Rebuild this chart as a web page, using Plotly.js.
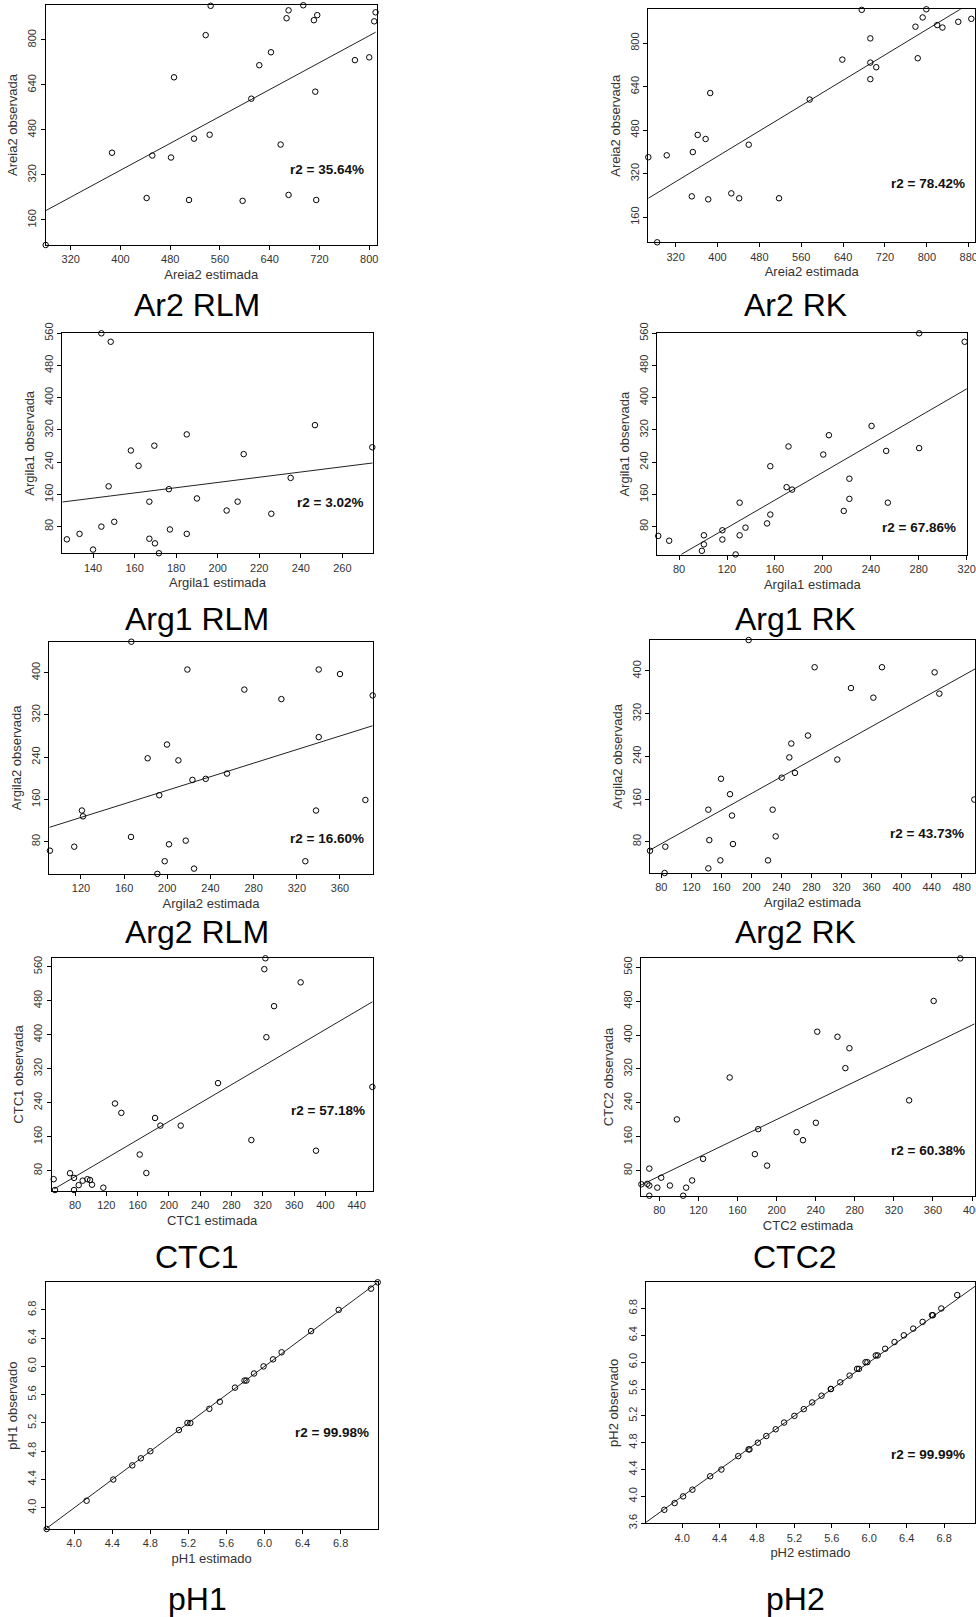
<!DOCTYPE html>
<html>
<head>
<meta charset="utf-8">
<script src="https://cdn.plot.ly/plotly-3.0.1.min.js"></script>
<style>html,body{margin:0;padding:0;background:#fff}#chart{width:976px;height:1617px}</style>
</head>
<body>
<div id="chart"></div>
<script>
// ---------- DATA ----------
// Ar2 RLM
const ar2RlmEst = [279.8,386.4,442.1,451.2,481.3,486.1,510.2,518.3,537,543.4,545,596.4,610.4,623.2,642,657.5,667.1,670.3,670.3,693.9,711,713.2,714.8,716.4,777,800,808,810.2];
const ar2RlmObs = [71,399,238,389,382,667,231,449,817,463,921,228,591,710,756,428,877,905,249,923,870,616,231,888,728,738,866,898];
const ar2RlmFitX = [279.8,810.2];
const ar2RlmFitY = [193,827];
// Ar2 RK
const ar2RkEst = [267.8,284.8,303,350.9,352.8,362.2,377.3,382.3,386.1,426.4,441.5,459.7,517.6,576.2,638.5,675.6,692,692,692,703.3,778.2,782.6,792,799,819.8,829.8,860,885];
const ar2RkObs = [381,68,388,237,400,463,448,226,617,248,230,427,230,593,740,923,818,729,668,712,861,745,895,925,867,858,879,890];
const ar2RkFitX = [267.8,892];
const ar2RkFitY = [229.9,958];
// Arg1 RLM
const arg1RlmEst = [125,127.4,133.5,140,144,144,148.5,147.5,150.2,158.2,161.9,167.1,167.1,169.5,169.8,171.7,176.5,177,185.1,185.1,190,204.3,209.6,212.5,225.8,235.1,246.8,274.4];
const arg1RlmObs = [59,48.5,62,23,560,80,539,180,92,269,231,142,50,281,38.5,14,173,73,309,62,150,120,142,260,112,201,332,277];
const arg1RlmFitX = [125.2,274.6];
const arg1RlmFitY = [141.1,238.1];
// Arg1 RK
const arg1RkEst = [62.6,71.7,99,100.7,100.7,116.1,116.1,127.2,130.5,130.5,135.4,153.4,156.1,156.1,169.7,171.3,174.3,200.3,205,217.4,222.1,222.1,240.6,252.8,254.2,280.3,280.3,318.3];
const arg1RkObs = [57,45,20,58.5,36,71,48,11,139.5,58.5,77.5,88,110,230,178,279,172,259,307,119,199,149,330,268,139.5,560,275,539];
const arg1RkFitX = [81.9,320];
const arg1RkFitY = [11.3,422];
// Arg2 RLM
const arg2RlmEst = [91.3,113.8,120.9,121.9,166.4,166.7,181.8,190.8,192.6,197.6,199.7,201.6,210.3,217.1,218.6,223.3,224.8,235.6,255.3,271.4,305.7,327.9,337.8,340.3,340.3,360,383.5,390.3];
const arg2RlmObs = [63,70.5,139,128,89,458.7,238,19,168,43,264,75,234,82,406,197,29,199,209,368,350,43,139,406,278,397.5,159,357];
const arg2RlmFitX = [90.7,390.3];
const arg2RlmFitY = [107.1,299.6];
// Arg2 RK
const arg2RkEst = [64.9,85.3,84.4,142.6,142.6,143.9,158.6,159.5,171.5,174.1,175.4,196.3,222.1,228.3,232.3,240.3,250.5,253.1,258,275.3,284.2,314.4,332.6,362.4,373.9,444,450.3,496.9];
const arg2RkObs = [63,70.6,21.3,140,30,83,45,198,169,129,75.6,458,45,140,90,200,238,264,209,279,407,234,368,350,407,397.5,357.5,159];
const arg2RkFitX = [64.9,497.8];
const arg2RkFitY = [64.4,403.8];
// CTC1
const ctc1Est = [52.7,54.4,73.6,78.7,78.7,84.7,89.8,95.8,99.2,101.7,116.2,131.1,139.2,162.7,171.2,182.3,189.1,215.1,262.8,305.4,322,323.3,324.6,334.4,368.4,388,460.1];
const ctc1Obs = [60,34.5,74,63,34.5,46,56.5,60,58,47,40,238,216,118,74.5,204,186,186,286,152,554,579.6,394,467,523,127,277];
const ctc1FitX = [53.2,460.5];
const ctc1FitY = [36.9,477.6];
// CTC2
const ctc2Est = [61.7,67.8,69.8,69.8,69.8,78,82,90.9,98,104.4,107.5,113.6,124.8,152,177.8,181.2,190.3,220.5,227,240.2,241.6,262.3,270.4,274.5,335.6,360.7,387.9];
const ctc2Obs = [48,49,85,45,21,40,63.5,45,201,21,40,57,108,300,119,178,92,171,152,193,408,396,322,369,246,480.5,581];
const ctc2FitX = [61.3,402.4];
const ctc2FitY = [46.2,426.3];
// pH1
const ph1Est = [3.71,4.13,4.41,4.61,4.70,4.80,5.10,5.19,5.22,5.42,5.53,5.69,5.79,5.81,5.89,5.99,6.09,6.18,6.49,6.78,7.12,7.19];
const ph1Obs = [3.7,4.1,4.4,4.6,4.7,4.8,5.1,5.2,5.2,5.4,5.5,5.7,5.8,5.8,5.9,6.0,6.1,6.2,6.5,6.8,7.1,7.19];
const ph1FitX = [3.7,7.19];
const ph1FitY = [3.7,7.19];
// pH2
const ph2Est = [3.61,3.81,3.92,4.01,4.11,4.30,4.42,4.60,4.71,4.72,4.81,4.90,5.00,5.09,5.20,5.30,5.39,5.49,5.59,5.59,5.69,5.79,5.87,5.89,5.96,5.98,6.07,6.09,6.17,6.27,6.37,6.47,6.57,6.67,6.68,6.77,6.94];
const ph2Obs = [3.6,3.8,3.9,4.0,4.1,4.3,4.4,4.6,4.7,4.7,4.8,4.9,5.0,5.1,5.2,5.3,5.4,5.5,5.6,5.6,5.7,5.8,5.9,5.9,6.0,6.0,6.1,6.1,6.2,6.3,6.4,6.5,6.6,6.7,6.7,6.8,7.0];
const ph2FitX = [3.6,7.14];
const ph2FitY = [3.6,7.14];

const xTitles = ["Areia2 estimada","Areia2 estimada","Argila1 estimada","Argila1 estimada","Argila2 estimada","Argila2 estimada","CTC1 estimada","CTC2 estimada","pH1 estimado","pH2 estimado"];
const yTitles = ["Areia2 observada","Areia2 observada","Argila1 observada","Argila1 observada","Argila2 observada","Argila2 observada","CTC1 observada","CTC2 observada","pH1 observado","pH2 observado"];
const r2Labels = ["r2 = 35.64%","r2 = 78.42%","r2 = 3.02%","r2 = 67.86%","r2 = 16.60%","r2 = 43.73%","r2 = 57.18%","r2 = 60.38%","r2 = 99.98%","r2 = 99.99%"];
const captions = ["Ar2 RLM","Ar2 RK","Arg1 RLM","Arg1 RK","Arg2 RLM","Arg2 RK","CTC1","CTC2","pH1","pH2"];

// ---------- LAYOUT CONFIG (positions in px) ----------
const W = 976, H = 1617;
const panels = [
  {est: ar2RlmEst, obs: ar2RlmObs, fx: ar2RlmFitX, fy: ar2RlmFitY, box:[45.7,376.7,5,245], xr:[279.8,812], yr:[71,924], xt:[320,80], yt:[160,160], r2:[327,169], cap:[197,305]},
  {est: ar2RkEst, obs: ar2RkObs, fx: ar2RkFitX, fy: ar2RkFitY, box:[648.3,975,9.3,242.3], xr:[267.8,892], yr:[68,925], xt:[320,80], yt:[160,160], r2:[928,184], cap:[795,305]},
  {est: arg1RlmEst, obs: arg1RlmObs, fx: arg1RlmFitX, fy: arg1RlmFitY, box:[62.3,372.7,333.3,553.3], xr:[125.2,274.6], yr:[13.8,560], xt:[140,20], yt:[80,80], r2:[330,503], cap:[197,619]},
  {est: arg1RkEst, obs: arg1RkObs, fx: arg1RkFitX, fy: arg1RkFitY, box:[657.3,967.3,333.3,555], xr:[61.8,320.5], yr:[9.6,560], xt:[80,40], yt:[80,80], r2:[919,527], cap:[795,619]},
  {est: arg2RlmEst, obs: arg2RlmObs, fx: arg2RlmFitX, fy: arg2RlmFitY, box:[49.3,372.7,641.7,874], xr:[90.7,390.3], yr:[18.8,458.7], xt:[120,40], yt:[80,80], r2:[327,838], cap:[197,932]},
  {est: arg2RkEst, obs: arg2RkObs, fx: arg2RkFitX, fy: arg2RkFitY, box:[650,975,640,873], xr:[64.9,497.8], yr:[21.3,458.1], xt:[80,40], yt:[80,80], r2:[927,833], cap:[795,932]},
  {est: ctc1Est, obs: ctc1Obs, fx: ctc1FitX, fy: ctc1FitY, box:[51.7,372.7,958.3,1190.7], xr:[50.2,460.5], yr:[32.9,579.6], xt:[80,40], yt:[80,80], r2:[328,1110], cap:[197,1257]},
  {est: ctc2Est, obs: ctc2Obs, fx: ctc2FitX, fy: ctc2FitY, box:[641,975,958.3,1195.7], xr:[61.3,403], yr:[21,581.2], xt:[80,40], yt:[80,80], r2:[928,1150], cap:[795,1257]},
  {est: ph1Est, obs: ph1Obs, fx: ph1FitX, fy: ph1FitY, box:[45.7,377.7,1282.3,1529], xr:[3.7,7.19], yr:[3.7,7.19], xt:[4.0,0.4], yt:[4.0,0.4], r2:[332,1432], cap:[197,1599], fmt:'.1f'},
  {est: ph2Est, obs: ph2Obs, fx: ph2FitX, fy: ph2FitY, box:[646,975,1282.3,1523.3], xr:[3.614,7.13], yr:[3.599,7.19], xt:[4.0,0.4], yt:[3.6,0.4], r2:[928,1454], cap:[795,1599], fmt:'.1f'}
];

const FONT = 'Arial, "Liberation Sans", sans-serif';
const TXT = '#333333';
const traces = [];
const layout = {
  width: W, height: H,
  margin: {l:0, r:0, t:0, b:0},
  paper_bgcolor: '#ffffff', plot_bgcolor: '#ffffff',
  showlegend: false,
  font: {family: FONT, color: TXT},
  annotations: []
};

panels.forEach((p, i) => {
  const n = i + 1;
  const xa = 'x' + (n === 1 ? '' : n), ya = 'y' + (n === 1 ? '' : n);
  const xk = 'xaxis' + (n === 1 ? '' : n), yk = 'yaxis' + (n === 1 ? '' : n);
  traces.push({
    type: 'scatter', mode: 'lines', x: p.fx, y: p.fy, xaxis: xa, yaxis: ya,
    line: {color: '#222222', width: 1}, hoverinfo: 'skip'
  });
  traces.push({
    type: 'scatter', mode: 'markers', x: p.est, y: p.obs, xaxis: xa, yaxis: ya,
    cliponaxis: false,
    marker: {symbol: 'circle-open', size: 5.5, color: '#000000', line: {width: 1, color: '#000000'}}
  });
  const [l, r, t, b] = p.box;
  const common = {
    showgrid: false, zeroline: false, showline: true, mirror: true,
    linecolor: '#000000', linewidth: 1, ticks: 'outside', ticklen: 4, tickwidth: 1, tickcolor: '#000000',
    tickmode: 'linear', tickfont: {family: FONT, size: 11, color: TXT}, fixedrange: true,
    ticklabeloverflow: 'allow'
  };
  layout[xk] = Object.assign({}, common, {
    domain: [l / W, r / W], anchor: ya, range: p.xr, tick0: p.xt[0], dtick: p.xt[1],
    tickformat: p.fmt || '',
    title: {text: xTitles[i], font: {family: FONT, size: 13, color: TXT}, standoff: 5}
  });
  layout[yk] = Object.assign({}, common, {
    domain: [1 - b / H, 1 - t / H], anchor: xa, range: p.yr, tick0: p.yt[0], dtick: p.yt[1],
    tickformat: p.fmt || '', tickangle: -90,
    title: {text: yTitles[i], font: {family: FONT, size: 13, color: TXT}, standoff: 5}
  });
  layout.annotations.push({
    xref: 'paper', yref: 'paper', x: p.r2[0] / W, y: 1 - p.r2[1] / H,
    xanchor: 'center', yanchor: 'middle', showarrow: false,
    text: '<b>' + r2Labels[i] + '</b>', font: {family: FONT, size: 13.5, color: '#111111'}
  });
  layout.annotations.push({
    xref: 'paper', yref: 'paper', x: p.cap[0] / W, y: 1 - p.cap[1] / H,
    xanchor: 'center', yanchor: 'middle', showarrow: false,
    text: captions[i], font: {family: FONT, size: 32, color: '#000000'}
  });
});

Plotly.newPlot('chart', traces, layout, {staticPlot: true, displayModeBar: false});
</script>
</body>
</html>
